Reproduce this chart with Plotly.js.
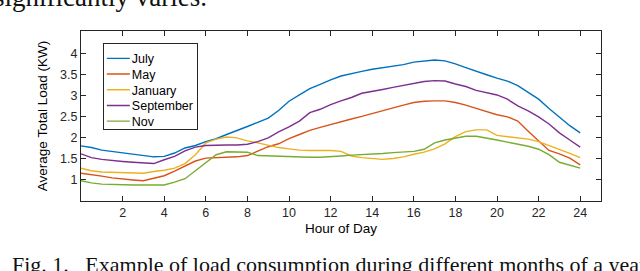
<!DOCTYPE html>
<html>
<head>
<meta charset="utf-8">
<script src="https://cdn.plot.ly/plotly-3.0.1.min.js"></script>
<style>
html,body{margin:0;padding:0;background:#fff;}
#chart{width:640px;height:271px;}
</style>
</head>
<body>
<div id="chart"></div>
<script>
// Hour of day (half-hour steps)
const hours = [0,0.5,1,1.5,2,2.5,3,3.5,4,4.5,5,5.5,6,6.5,7,7.5,8,8.5,9,9.5,10,10.5,11,11.5,12,12.5,13,13.5,14,14.5,15,15.5,16,16.5,17,17.5,18,18.5,19,19.5,20,20.5,21,21.5,22,22.5,23,23.5,24];

const july = [1.81,1.77,1.71,1.68,1.65,1.61,1.58,1.55,1.56,1.64,1.76,1.82,1.91,1.98,2.08,2.17,2.27,2.37,2.47,2.65,2.87,3.02,3.17,3.27,3.38,3.47,3.53,3.58,3.63,3.67,3.71,3.74,3.80,3.83,3.85,3.83,3.76,3.67,3.58,3.50,3.42,3.35,3.24,3.08,2.92,2.70,2.49,2.29,2.12];
const may = [1.16,1.13,1.09,1.05,1.02,1.00,0.98,1.04,1.10,1.21,1.33,1.45,1.52,1.53,1.53,1.55,1.58,1.68,1.79,1.86,1.98,2.08,2.18,2.25,2.32,2.38,2.45,2.51,2.58,2.64,2.71,2.78,2.84,2.87,2.88,2.88,2.84,2.78,2.70,2.63,2.55,2.50,2.40,2.16,1.92,1.70,1.62,1.52,1.36];
const january = [1.28,1.22,1.19,1.18,1.17,1.16,1.16,1.20,1.23,1.28,1.39,1.60,1.88,1.97,2.02,2.00,1.93,1.88,1.83,1.77,1.74,1.71,1.70,1.70,1.70,1.68,1.57,1.53,1.51,1.49,1.51,1.55,1.61,1.66,1.74,1.86,2.03,2.15,2.19,2.19,2.06,2.03,2.01,1.97,1.91,1.82,1.73,1.63,1.53];
const september = [1.62,1.53,1.49,1.46,1.44,1.42,1.40,1.39,1.48,1.56,1.69,1.78,1.82,1.83,1.83,1.83,1.85,1.91,2.00,2.14,2.26,2.40,2.60,2.68,2.79,2.88,2.96,3.06,3.10,3.15,3.20,3.25,3.30,3.34,3.36,3.35,3.28,3.22,3.13,3.08,3.02,2.92,2.76,2.64,2.50,2.33,2.12,1.95,1.78];
const nov = [0.98,0.93,0.90,0.89,0.89,0.88,0.88,0.88,0.88,0.95,1.03,1.22,1.42,1.60,1.67,1.67,1.66,1.58,1.57,1.57,1.56,1.55,1.54,1.54,1.55,1.57,1.59,1.60,1.62,1.63,1.65,1.66,1.68,1.73,1.88,1.95,2.00,2.04,2.04,2.00,1.95,1.90,1.85,1.80,1.73,1.60,1.42,1.35,1.28];

const seriesNames = ["July","May","January","September","Nov"];
const seriesColors = ["#0072BD","#D95319","#EDB120","#7E2F8E","#77AC30"];
const seriesData = [july, may, january, september, nov];

const xTicks = [2,4,6,8,10,12,14,16,18,20,22,24];
const yTicks = [1,1.5,2,2.5,3,3.5,4];

const traces = seriesNames.map((n,i)=>({
  x: hours, y: seriesData[i], name: n, type: "scatter", mode: "lines",
  line: {color: seriesColors[i], width: 1.4}
}));

const axisColor = "#262626";
const sans = "Liberation Sans, Arial, sans-serif";
const tickFont = {family: sans, size: 12.5, color: "#262626"};

const layout = {
  width: 640, height: 271,
  margin: {l: 81, r: 39, t: 31, b: 70},
  paper_bgcolor: "#fff", plot_bgcolor: "#fff",
  showlegend: true,
  legend: {
    x: 0.042, y: 0.931, xanchor: "left", yanchor: "top",
    bgcolor: "#fff", bordercolor: axisColor, borderwidth: 1,
    font: {family: sans, size: 12.5, color: "#000"},
    tracegroupgap: 0
  },
  xaxis: {
    range: [0, 25], tickvals: xTicks, ticktext: xTicks.map(String),
    ticks: "inside", ticklen: 5, tickcolor: axisColor, tickwidth: 1,
    showline: true, linecolor: axisColor, linewidth: 1, mirror: "ticks",
    showgrid: false, zeroline: false, tickfont: tickFont,
    title: {text: "Hour of Day", font: {family: sans, size: 13.5, color: "#000"}, standoff: 4}
  },
  yaxis: {
    range: [0.5, 4.54], tickvals: yTicks, ticktext: yTicks.map(String),
    ticks: "inside", ticklen: 5, tickcolor: axisColor, tickwidth: 1,
    showline: true, linecolor: axisColor, linewidth: 1, mirror: "ticks",
    showgrid: false, zeroline: false, tickfont: tickFont,
    title: {text: "Average Total Load (KW)", font: {family: sans, size: 13.5, color: "#000"}, standoff: 9}
  },
  annotations: [
    {text: "significantly varies.", xref: "paper", yref: "paper", x: -0.171, y: 1.2,
     xanchor: "left", yanchor: "middle", showarrow: false,
     font: {family: "Liberation Serif, Times New Roman, serif", size: 27, color: "#111"}},
    {text: "Fig. 1.&nbsp;&nbsp;&nbsp;Example of load consumption during different months of a year",
     xref: "paper", yref: "paper", x: -0.137, y: -0.375, xanchor: "left", yanchor: "middle",
     showarrow: false,
     font: {family: "Liberation Serif, Times New Roman, serif", size: 22, color: "#111"}}
  ]
};

Plotly.newPlot("chart", traces, layout, {displayModeBar: false, staticPlot: true}).then(gd => {
  try {
    const items = gd.querySelectorAll(".legend .traces");
    const spacing = 15.7;
    let y0 = null;
    items.forEach((it, i) => {
      const m = /translate\(([^,]+),\s*([^)]+)\)/.exec(it.getAttribute("transform") || "");
      if (!m) return;
      const x = parseFloat(m[1]);
      if (y0 === null) y0 = parseFloat(m[2]);
      it.setAttribute("transform", "translate(" + x + "," + (y0 + i * spacing) + ")");
      const ln = it.querySelector(".legendlines path");
      if (ln) ln.setAttribute("d", "M3,0h23");
      const tx = it.querySelector("text.legendtext");
      if (tx) tx.setAttribute("x", 28);
    });
    const bg = gd.querySelector(".legend rect.bg");
    if (bg && items.length) {
      let maxW = 0;
      items.forEach(it => {
        const tx = it.querySelector("text.legendtext");
        if (tx) maxW = Math.max(maxW, tx.getBBox().width);
      });
      bg.setAttribute("height", (items.length * spacing + 8).toFixed(1));
      bg.setAttribute("width", (28 + maxW + 5).toFixed(1));
    }
  } catch (e) { console.log(e); }
});
</script>
</body>
</html>
